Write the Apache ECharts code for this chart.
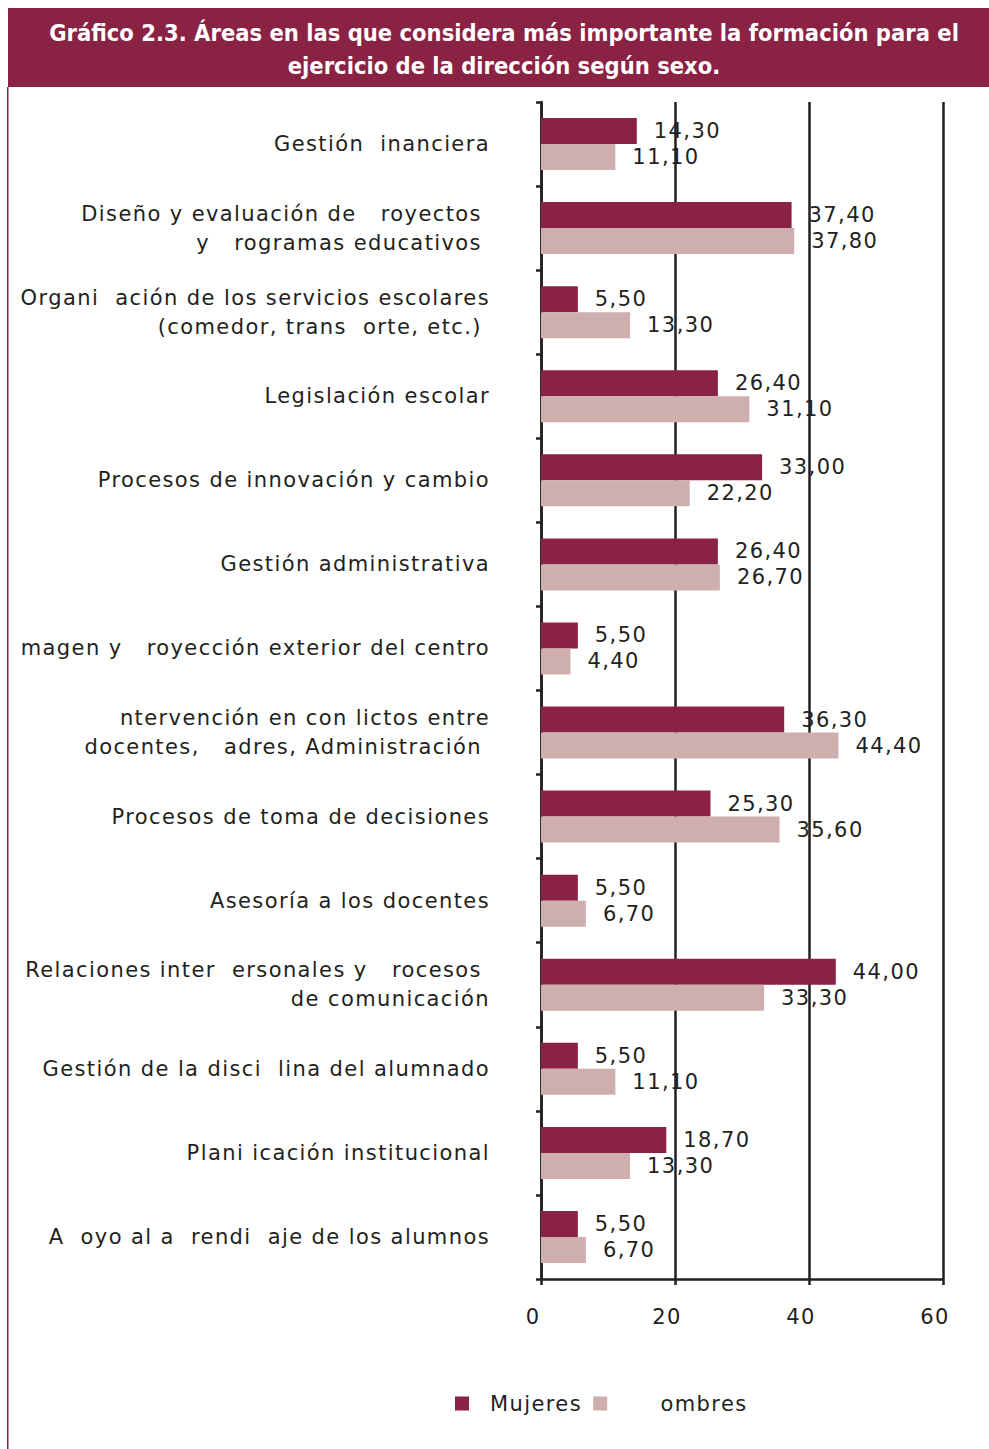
<!DOCTYPE html>
<html><head><meta charset="utf-8">
<script src="https://cdn.jsdelivr.net/npm/echarts@6/dist/echarts.min.js"></script>
<style>
html,body{margin:0;padding:0;background:#fff;}
#c{width:989px;height:1449px;}
#c svg text{letter-spacing:1.4px;}
#c svg text[style*="Condensed"]{letter-spacing:0 !important;}
</style>
</head><body><div id="c"></div>
<script>
const categories = [
  'Gestión  inanciera',
  'Diseño y evaluación de   royectos \ny   rogramas educativos ',
  'Organi  ación de los servicios escolares\n(comedor, trans  orte, etc.) ',
  'Legislación escolar',
  'Procesos de innovación y cambio',
  'Gestión administrativa',
  'magen y   royección exterior del centro',
  'ntervención en con lictos entre\ndocentes,   adres, Administración ',
  'Procesos de toma de decisiones',
  'Asesoría a los docentes',
  'Relaciones inter  ersonales y   rocesos \nde comunicación',
  'Gestión de la disci  lina del alumnado',
  'Plani icación institucional',
  'A  oyo al a  rendi  aje de los alumnos'
];
const mujeres = [14.30, 37.40, 5.50, 26.40, 33.00, 26.40, 5.50, 36.30, 25.30, 5.50, 44.00, 5.50, 18.70, 5.50];
const hombres = [11.10, 37.80, 13.30, 31.10, 22.20, 26.70, 4.40, 44.40, 35.60, 6.70, 33.30, 11.10, 13.30, 6.70];
const seriesNames = ['Mujeres', 'Hombres'];
const legendLabels = ['Mujeres', '    ombres'];
const xTicks = [0, 20, 40, 60];
const titleText = 'Gráfico 2.3. Áreas en las que considera más importante la formación para el\nejercicio de la dirección según sexo.';

const DARK = '#231f20';
const FONT = 'DejaVu Sans';
const chart = echarts.init(document.getElementById('c'), null, {renderer: 'svg'});
const fmt = p => p.value.toFixed(2).replace('.', ',');
chart.setOption({
  backgroundColor: '#ffffff',
  animation: false,
  graphic: [
    {type: 'rect', shape: {x: 8, y: 8, width: 981, height: 79}, style: {fill: '#8a2244'}, z: 0},
    {type: 'rect', shape: {x: 7, y: 87, width: 1.5, height: 1362}, style: {fill: '#8a2244'}, z: 0}
  ],
  title: {
    text: titleText,
    left: 499, top: 11, textAlign: 'center',
    textStyle: {color: '#ffffff', fontFamily: "'DejaVu Sans Condensed', 'DejaVu Sans'", fontWeight: 'bold', fontSize: 23.5, lineHeight: 33}
  },
  legend: {
    data: seriesNames,
    left: 455, top: 1393, padding: 0,
    icon: 'rect', itemWidth: 14, itemHeight: 14, itemGap: 21,
    formatter: n => legendLabels[seriesNames.indexOf(n)],
    textStyle: {color: DARK, fontFamily: FONT, fontSize: 21, padding: [0, 0, 0, 16]}
  },
  grid: {left: 541, right: 46, top: 102, bottom: 170, containLabel: false},
  xAxis: {
    type: 'value', min: xTicks[0], max: xTicks[xTicks.length - 1], interval: 20,
    axisLine: {show: true, onZero: false, lineStyle: {color: DARK, width: 2.5}},
    axisTick: {show: true, length: 6, lineStyle: {color: DARK, width: 2.5}},
    splitLine: {show: true, lineStyle: {color: DARK, width: 2.5}},
    axisLabel: {color: DARK, fontFamily: FONT, fontSize: 21, margin: 27, padding: [0, 16, 0, 0]}
  },
  yAxis: {
    type: 'category', data: categories, inverse: true,
    axisLine: {show: true, lineStyle: {color: DARK, width: 2.5}},
    axisTick: {show: true, length: 5, lineStyle: {color: DARK, width: 2.5}},
    axisLabel: {color: DARK, fontFamily: FONT, fontSize: 21, lineHeight: 29, margin: 51, align: 'right', padding: [5, 0, 0, 0]}
  },
  series: [
    {name: seriesNames[0], type: 'bar', data: mujeres, barWidth: 26, barGap: '0%',
     itemStyle: {color: '#8a2244'},
     label: {show: true, position: 'right', distance: 17, formatter: fmt, color: DARK, fontFamily: FONT, fontSize: 21}},
    {name: seriesNames[1], type: 'bar', data: hombres, barWidth: 26, barGap: '0%',
     itemStyle: {color: '#cfaeb0'},
     label: {show: true, position: 'right', distance: 17, formatter: fmt, color: DARK, fontFamily: FONT, fontSize: 21}}
  ]
});
</script></body></html>
